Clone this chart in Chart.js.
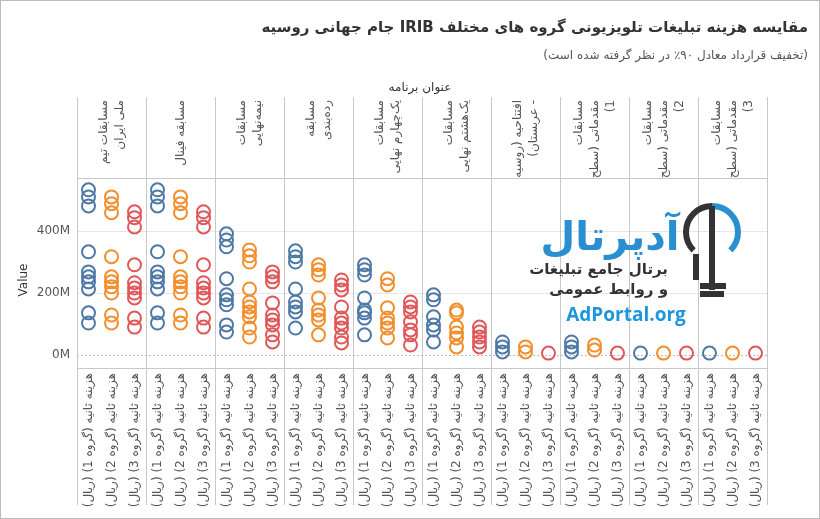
<!DOCTYPE html>
<html><head><meta charset="utf-8">
<script src="https://cdn.jsdelivr.net/npm/chart.js@4"></script>
<style>html,body{margin:0;padding:0;background:#fff}#w{width:820px;height:519px;position:relative}</style>
</head><body><div id="w"><canvas id="c" width="820" height="519"></canvas></div>
<script>
const panels = [
 ["مسابقات تیم","ملی ایران"],
 ["مسابقه فینال"],
 ["مسابقات","نیمه‌نهایی"],
 ["مسابقه","رده‌بندی"],
 ["مسابقات","یک‌چهارم نهایی"],
 ["مسابقات","یک‌هشتم نهایی"],
 ["افتتاحیه (روسیه","- عربستان)"],
 ["مسابقات","مقدماتی (سطح","1)"],
 ["مسابقات","مقدماتی (سطح","2)"],
 ["مسابقات","مقدماتی (سطح","3)"]
];
const groupLabels = ["هزینه ثانیه (گروه 1) (ریال)","هزینه ثانیه (گروه 2) (ریال)","هزینه ثانیه (گروه 3) (ریال)"];
const yTicks = [0,200,400];
// values in millions of rial, per panel
const blueValues = [
 [533,510,481,333,268,252,236,213,136,103],
 [533,510,481,333,268,252,236,213,136,103],
 [391,371,349,246,194,178,162,97,74],
 [336,317,300,213,171,155,139,87],
 [291,275,258,184,145,136,119,65],
 [194,178,123,97,81,42],
 [42,26,10],
 [42,26,10],
 [6],
 [6]
];
const orangeValues = [
 [510,488,459,317,252,236,220,200,129,103],
 [510,488,459,317,252,236,220,200,129,103],
 [339,320,300,213,171,155,139,123,87,58],
 [291,275,258,184,145,129,113,65],
 [246,226,152,119,103,87,55],
 [145,136,90,71,55,26],
 [26,10],
 [32,16],
 [6],
 [6]
];
const redValues = [
 [462,443,413,291,233,216,200,184,119,90],
 [462,443,413,291,233,216,200,184,119,90],
 [268,252,236,168,129,113,97,65,42],
 [242,226,210,155,119,103,87,58,39],
 [171,155,139,107,81,65,32],
 [90,74,58,42,26],
 [6],
 [6],
 [6],
 [6]
];
const colors = ["#4e79a7","#f28e2b","#e15759"];
function pts(arr,g){const o=[];arr.forEach((vals,p)=>vals.forEach(v=>o.push({x:p*3+g+0.5,y:v})));return o;}
const series=[blueValues,orangeValues,redValues];
const datasets=series.map((s,g)=>({data:pts(s,g),borderColor:colors[g],backgroundColor:'rgba(0,0,0,0)',borderWidth:2,pointRadius:6.5,pointHoverRadius:6.5}));

const deco={id:'deco',
 beforeDatasetsDraw(ch){
  const c=ch.ctx,a=ch.chartArea,y=ch.scales.y,x=ch.scales.x;
  c.save();
  // grid
  c.strokeStyle='#e6e6e6';c.lineWidth=1;
  yTicks.forEach(t=>{const py=Math.round(y.getPixelForValue(t))+0.5;c.beginPath();
    if(t===0){c.setLineDash([2,2]);c.strokeStyle='#bbb';}else{c.setLineDash([]);c.strokeStyle='#e6e6e6';}
    c.moveTo(a.left,py);c.lineTo(a.right,py);c.stroke();});
  c.setLineDash([]);
  c.strokeStyle='#c8c8c8';
  for(let p=0;p<=panels.length;p++){const px=Math.round(x.getPixelForValue(p*3))+0.5;c.beginPath();c.moveTo(px,97);c.lineTo(px,505);c.stroke();}
  [a.top,a.bottom].forEach(v=>{c.beginPath();c.moveTo(a.left,Math.round(v)+0.5);c.lineTo(a.right,Math.round(v)+0.5);c.stroke();});
  // y ticks
  c.fillStyle='#555';c.font='12px "DejaVu Sans", sans-serif';c.textAlign='right';c.textBaseline='middle';
  yTicks.forEach(t=>c.fillText(t+'M',70,y.getPixelForValue(t)));
  c.save();c.translate(24,280);c.rotate(-Math.PI/2);c.textAlign='center';c.fillStyle='#333';c.font='12px "DejaVu Sans", sans-serif';c.fillText('Value',0,0);c.restore();
  // headers
  c.font='12px "DejaVu Sans", sans-serif';c.fillStyle='#555';c.direction='rtl';
  panels.forEach((lines,p)=>{const cx=x.getPixelForValue(p*3+1.5);const lh=16;const start=cx-(lines.length-1)*lh/2;
    lines.forEach((l,i)=>{c.save();c.translate(start+i*lh,100);c.rotate(-Math.PI/2);c.textAlign='right';c.textBaseline='middle';c.fillText(l,0,0);c.restore();});});
  // bottom labels
  for(let i=0;i<panels.length*3;i++){const cx=x.getPixelForValue(i+0.5);c.save();c.translate(cx,373);c.rotate(-Math.PI/2);c.textAlign='right';c.textBaseline='middle';c.fillText(groupLabels[i%3],0,0);c.restore();}
  c.direction='ltr';
  // title
  c.strokeStyle='#bbb';c.strokeRect(0.5,0.5,819,518);
  c.direction='rtl';c.textAlign='right';c.textBaseline='middle';
  c.fillStyle='#333';c.font='bold 15px "DejaVu Sans", sans-serif';
  c.fillText('مقایسه هزینه تبلیغات تلویزیونی گروه های مختلف IRIB جام جهانی روسیه',808,28);
  c.fillStyle='#555';c.font='12px "DejaVu Sans", sans-serif';
  c.fillText('(تخفیف قرارداد معادل ۹۰٪ در نظر گرفته شده است)',808,56);
  c.textAlign='center';c.fillStyle='#333';c.fillText('عنوان برنامه',420,88);
  // watermark
  c.fillStyle='#2a8fd0';c.font='bold 40px "DejaVu Sans", sans-serif';c.fillText('آدپرتال',610,240);
  c.fillStyle='#333';c.font='bold 15px "DejaVu Sans", sans-serif';c.textAlign='right';
  c.fillText('برتال جامع تبلیغات',668,270);c.fillText('و روابط عمومی',668,290);
  c.direction='ltr';c.textAlign='center';c.fillStyle='#1c96dc';c.font='bold 19px "Open Sans", sans-serif';c.fillText('AdPortal.org',626,316);
  // bulb
  c.strokeStyle='#333';c.lineWidth=6;c.beginPath();c.arc(712,232,26,Math.PI*0.75,Math.PI*1.5);c.stroke();
  c.strokeStyle='#2a8fd0';c.beginPath();c.arc(712,232,26,-Math.PI*0.5,Math.PI*0.25);c.stroke();
  c.strokeStyle='#333';c.beginPath();c.moveTo(696,254);c.lineTo(696,280);c.moveTo(712,206);c.lineTo(712,290);c.moveTo(700,286);c.lineTo(726,286);c.moveTo(700,294);c.lineTo(724,294);c.stroke();
  c.restore();
 }};

new Chart(document.getElementById('c'),{type:'scatter',data:{datasets},
 options:{responsive:false,animation:false,events:[],
  layout:{padding:{left:77,right:53,top:178,bottom:151}},
  plugins:{legend:{display:false},tooltip:{enabled:false}},
  scales:{x:{type:'linear',min:0,max:30,display:false},y:{min:-42,max:571,display:false}}},
 plugins:[deco]});
</script></body></html>
